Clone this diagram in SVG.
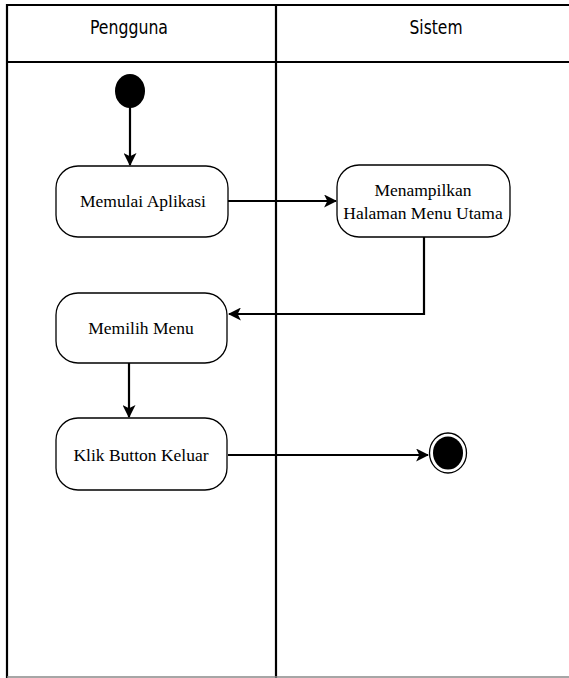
<svg xmlns="http://www.w3.org/2000/svg" width="569" height="678" viewBox="0 0 569 678">
  <defs>
    <marker id="arrow" viewBox="0 0 12 12" refX="11" refY="6" markerWidth="13" markerHeight="13" markerUnits="userSpaceOnUse" orient="auto">
      <path d="M0,0 L12,6 L0,12 L3,6 Z" fill="#000"/>
    </marker>
  </defs>
  <style>
    .frame { fill: none; stroke: #000; stroke-width: 2.2; }
    .lane-title { font-family: "DejaVu Sans Condensed", "Liberation Sans Narrow", "Liberation Sans", sans-serif; font-size: 19.5px; fill: #000; text-anchor: middle; }
    .action { fill: #fff; stroke: #000; stroke-width: 1.3; }
    .label { font-family: "Liberation Serif", "Times New Roman", serif; font-size: 17.5px; fill: #000; text-anchor: middle; }
    .flow { fill: none; stroke: #000; stroke-width: 2.2; marker-end: url(#arrow); }
  </style>
  <rect width="569" height="678" fill="#fff"/>

  <!-- swimlane frame -->
  <g id="lanes">
    <line class="frame" x1="7" y1="5" x2="569" y2="5"/>
    <line class="frame" x1="7" y1="62" x2="569" y2="62"/>
    <line class="frame" x1="7" y1="4" x2="7" y2="678"/>
    <line class="frame" x1="276" y1="4" x2="276" y2="678"/>
    <line x1="7" y1="677" x2="569" y2="677" stroke="#888" stroke-width="1.5"/>
    <text class="lane-title" x="129" y="34" textLength="78" lengthAdjust="spacingAndGlyphs">Pengguna</text>
    <text class="lane-title" x="436" y="34" textLength="53" lengthAdjust="spacingAndGlyphs">Sistem</text>
  </g>

  <!-- control flow -->
  <g id="connectors">
    <path class="flow" d="M130,107 L130,165"/>
    <path class="flow" d="M228,201 L336,201"/>
    <path class="flow" d="M424,237 L424,314 L229,314"/>
    <path class="flow" d="M129,363 L129,417"/>
    <path class="flow" d="M228,455 L428,455"/>
  </g>

  <g id="start">
    <ellipse cx="130" cy="91" rx="15" ry="17" fill="#000"/>
  </g>

  <g id="memulai-aplikasi">
    <rect class="action" x="56" y="166" width="172" height="71" rx="22" ry="22"/>
    <text class="label" x="143" y="207">Memulai Aplikasi</text>
  </g>

  <g id="menampilkan-menu">
    <rect class="action" x="337" y="165" width="173" height="72" rx="22" ry="22"/>
    <text class="label" x="423" y="196">Menampilkan</text>
    <text class="label" x="423" y="219">Halaman Menu Utama</text>
  </g>

  <g id="memilih-menu">
    <rect class="action" x="56" y="293" width="171" height="70" rx="22" ry="22"/>
    <text class="label" x="141" y="334">Memilih Menu</text>
  </g>

  <g id="klik-button-keluar">
    <rect class="action" x="56" y="418" width="171" height="72" rx="22" ry="22"/>
    <text class="label" x="141" y="461">Klik Button Keluar</text>
  </g>

  <g id="end">
    <ellipse cx="448" cy="453" rx="18.5" ry="20" fill="#fff" stroke="#000" stroke-width="1.3"/>
    <ellipse cx="448" cy="453" rx="15" ry="16.5" fill="#000"/>
  </g>
</svg>
